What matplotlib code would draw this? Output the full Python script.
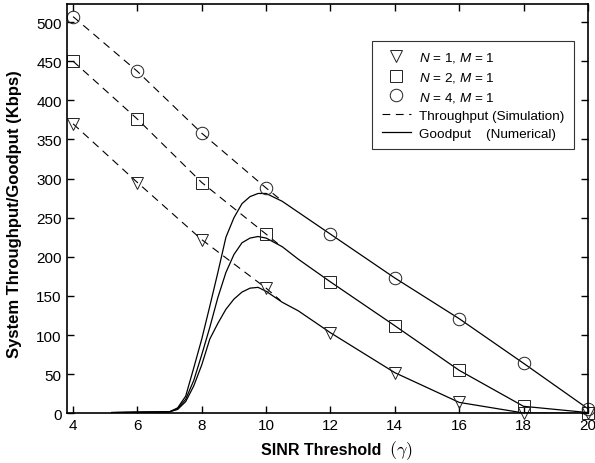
import matplotlib
matplotlib.use("Agg")
from matplotlib import pyplot as plt
from matplotlib.lines import Line2D

plt.rcParams['font.family'] = 'Liberation Sans'
plt.rcParams['mathtext.fontset'] = 'custom'
plt.rcParams['mathtext.it'] = 'Liberation Sans:italic'
plt.rcParams['mathtext.rm'] = 'Liberation Sans'

# simulation points (markers)
sim_x = [4, 6, 8, 10, 12, 14, 16, 18, 20]
sim_n1 = [370, 295, 222, 160, 103, 52, 14, 0.5, 0]
sim_n2 = [450, 376, 295, 229, 168, 112, 55, 9, 0]
sim_n4 = [507, 437, 358, 288, 229, 173, 121, 64, 6]

# throughput (simulation), dashed
thr_x = [4, 6, 8, 10, 10.45]
thr_n1 = [370, 295, 222, 160, 144]
thr_n2 = [450, 376, 295, 229, 214]
thr_n4 = [507, 437, 358, 288, 273]

# goodput (numerical), solid
good_x = [5.2, 6, 7, 7.25, 7.5, 7.75, 8, 8.25, 8.5, 8.75, 9, 9.25, 9.5, 9.75,
          10, 10.5, 11, 12, 14, 16, 18, 20]
good_n1 = [1, 1.5, 2, 5, 15, 35, 62, 95, 115, 133, 146, 155, 160, 161,
           156, 142, 131, 103, 52, 14, 0.5, 0]
good_n2 = [1, 1.5, 2, 6, 18, 42, 75, 110, 148, 180, 203, 218, 224, 226,
           224, 213, 197, 168, 112, 55, 9, 1]
good_n4 = [1, 1.5, 2, 7, 22, 58, 95, 137, 180, 225, 250, 268, 277, 281,
           281, 271, 257, 229, 173, 121, 64, 6]

fig = plt.figure(figsize=(5.95, 4.64), dpi=100)
ax = fig.add_axes([0.112, 0.107, 0.876, 0.882])

dash = (0, (7, 5))
for y in [thr_n1, thr_n2, thr_n4]:
    ax.plot(thr_x, y, color='k', lw=0.8, linestyle=dash)
for y in [good_n1, good_n2, good_n4]:
    ax.plot(good_x, y, color='k', lw=0.9)

mk = dict(mfc='none', mec='#222222', mew=0.7, ls='none', clip_on=False)
ax.plot(sim_x, sim_n1, marker='v', ms=9, **mk)
ax.plot(sim_x, sim_n2, marker='s', ms=8, **mk)
ax.plot(sim_x, sim_n4, marker='o', ms=9, **mk)

ax.set_xlim(3.8, 20)
ax.set_ylim(0, 523)
ax.set_xticks([4, 6, 8, 10, 12, 14, 16, 18, 20])
ax.set_yticks(range(0, 501, 50))
ax.tick_params(direction='in', top=True, right=True, labelsize=11, length=5, width=1)
for s in ax.spines.values():
    s.set_linewidth(1.2)

ax.set_ylabel('System Throughput/Goodput (Kbps)', fontsize=12, fontweight='bold')
ax.yaxis.set_label_coords(-0.085, 0.49)
fig.text(0.54, 0.03, 'SINR Threshold', fontsize=11.5, fontweight='bold',
         ha='center', va='center')
fig.text(0.674, 0.028, r'$(\gamma)$', fontsize=13, math_fontfamily='cm',
         ha='center', va='center')

handles = [
    Line2D([], [], marker='v', ms=9, **mk),
    Line2D([], [], marker='s', ms=8, **mk),
    Line2D([], [], marker='o', ms=9, **mk),
    Line2D([], [], color='k', lw=0.8, linestyle=dash),
    Line2D([], [], color='k', lw=0.9),
]
labels = [r'$N$ = 1, $M$ = 1', r'$N$ = 2, $M$ = 1', r'$N$ = 4, $M$ = 1',
          'Throughput (Simulation)', 'Goodput    (Numerical)']
leg = ax.legend(handles, labels, loc='upper left', bbox_to_anchor=(0.586, 0.91),
                fontsize=9.7, frameon=True, fancybox=False, edgecolor='k',
                handlelength=2.2, handletextpad=0.6, labelspacing=0.42,
                borderpad=0.7, borderaxespad=0)
leg.get_frame().set_linewidth(0.8)

fig.savefig('out.png', dpi=100)
